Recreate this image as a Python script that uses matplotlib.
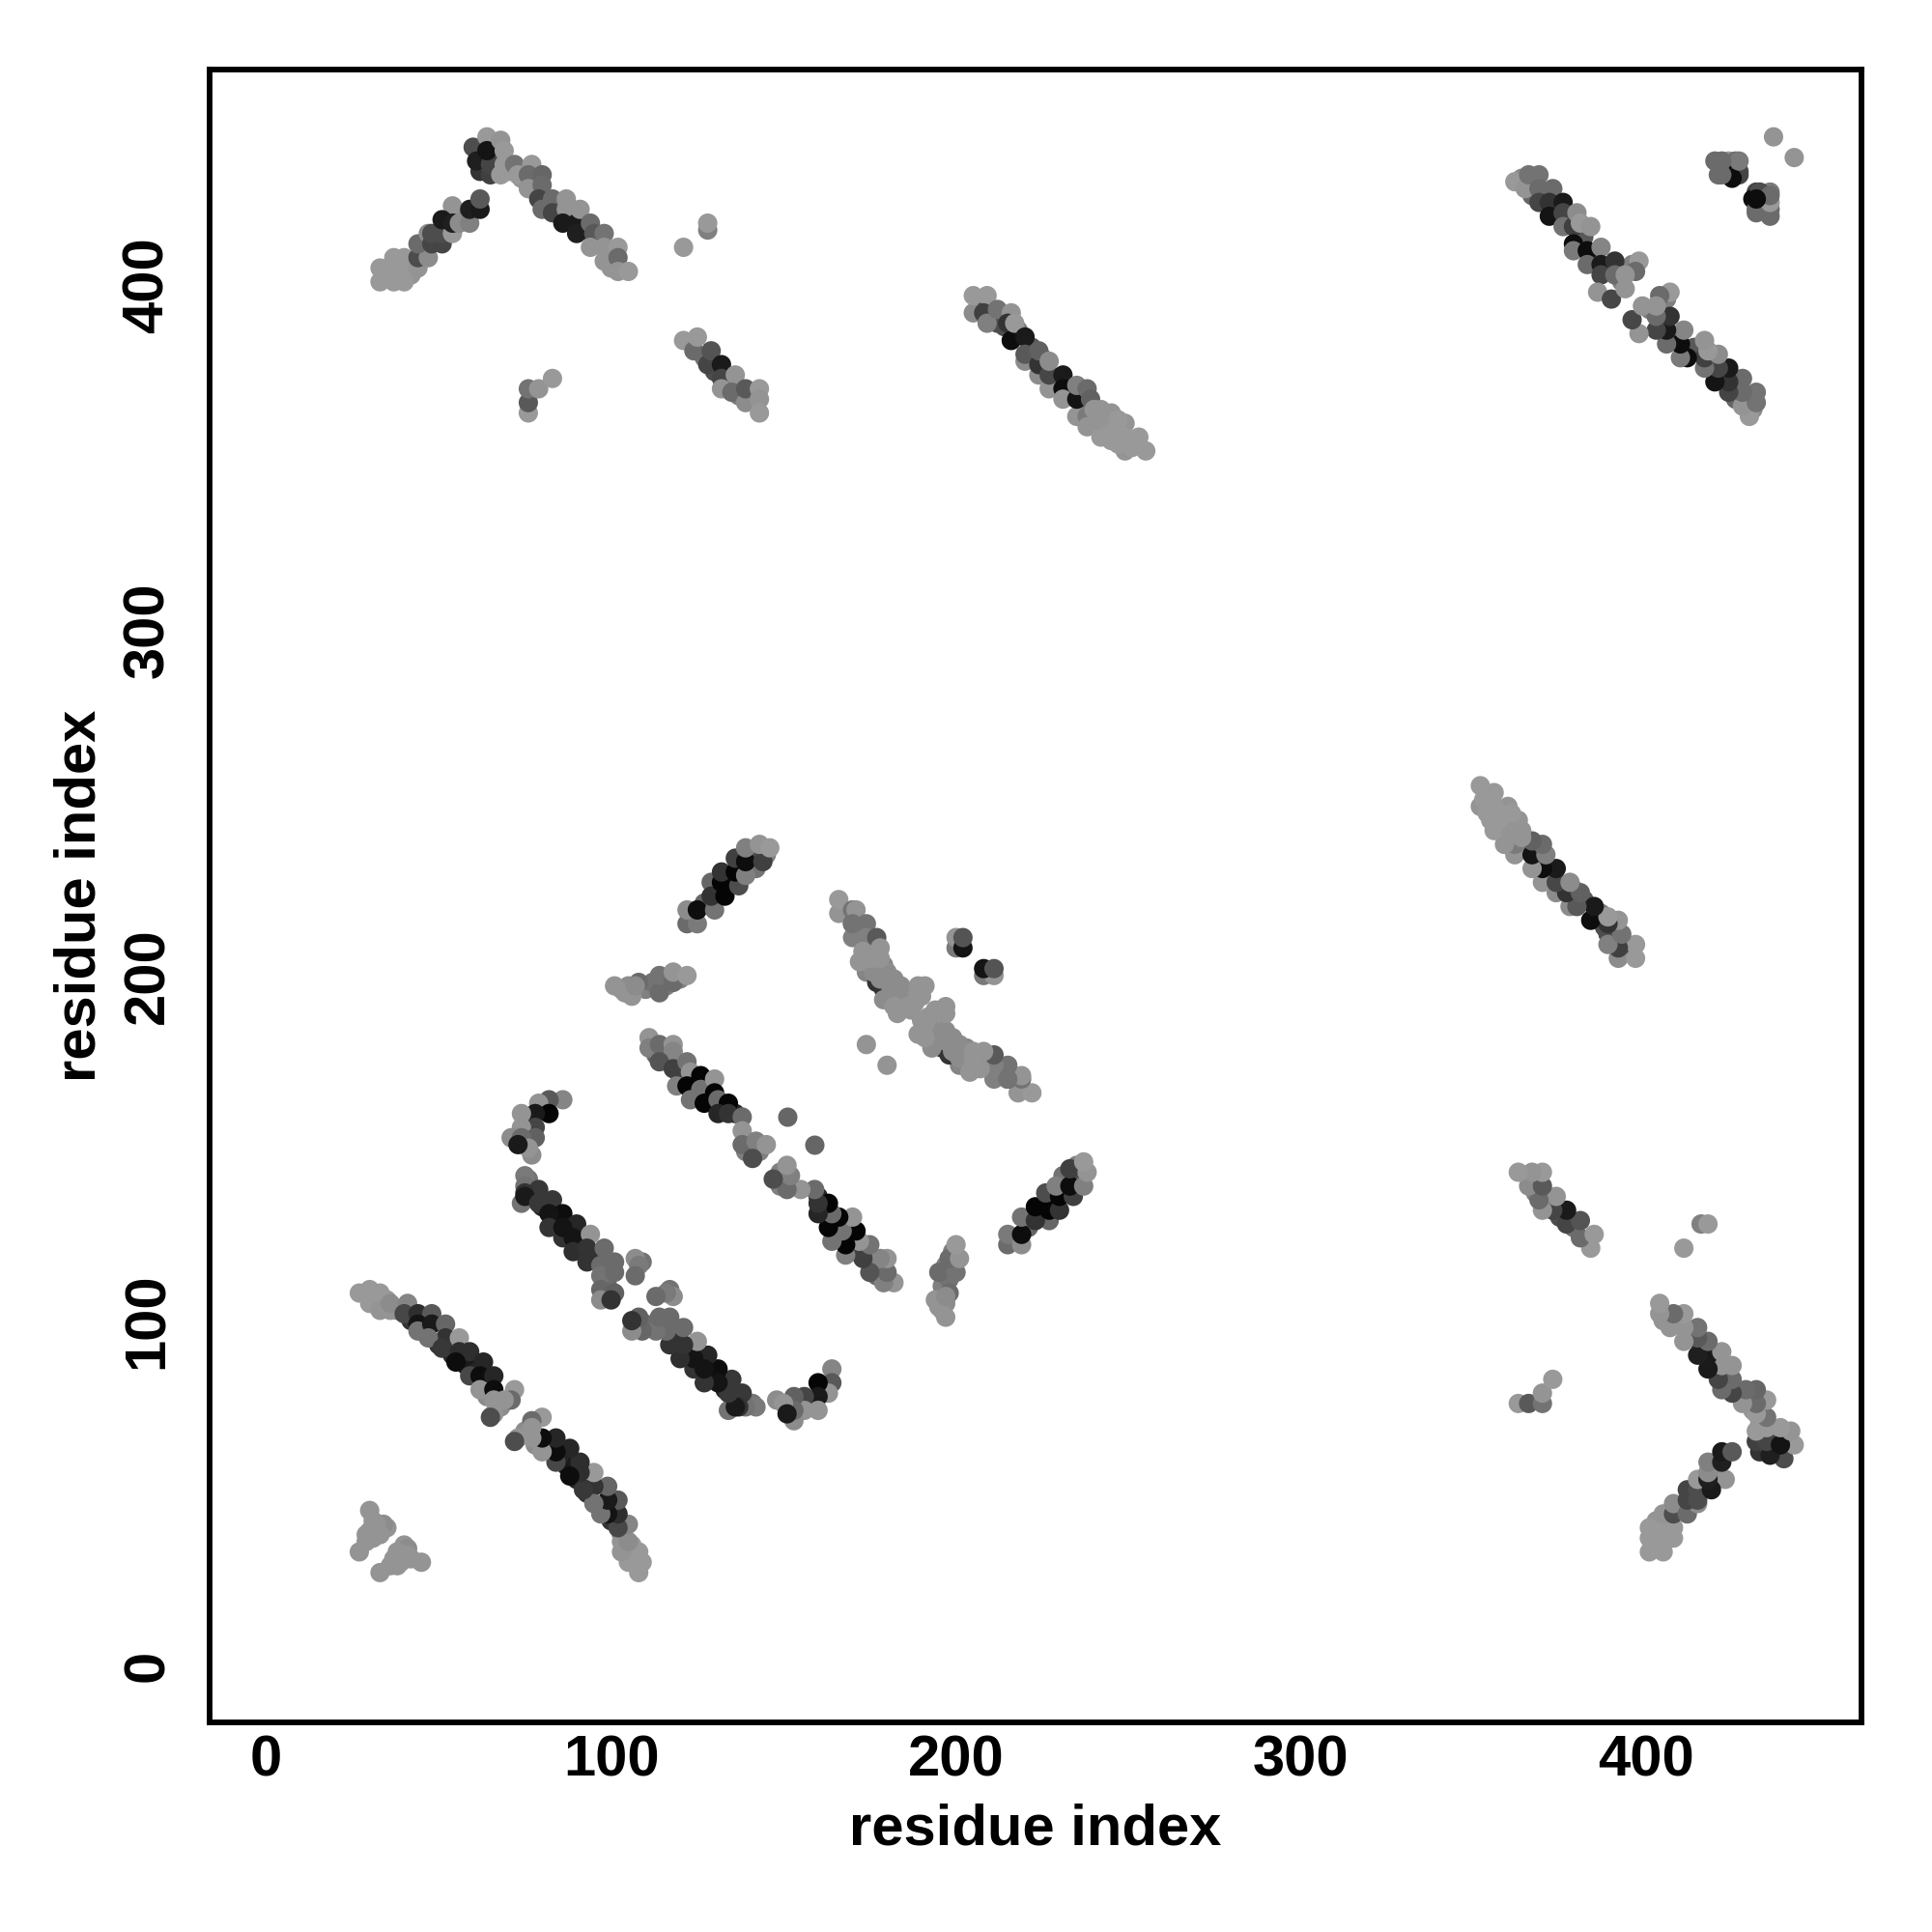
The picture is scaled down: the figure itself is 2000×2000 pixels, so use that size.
import matplotlib
matplotlib.use("Agg")
import matplotlib.pyplot as plt

# Contact pairs (residue i, residue j, grey level); each is also drawn as (j, i).
a_i = [35,38,42,46,50,53,57,33,33,37,40,37,40,40,44,44,47,44,47,48,51,51,48,54,54,51,54,56,59,59,62,62]
a_j = [403,404,403,410,413,417,420,401,405,401,401,408,408,404,405,408,408,412,415,412,412,415,415,415,423,419,418,418,418,422,422,425]
a_g = [.6,.6,.58,.45,.3,.5,.5,.6,.6,.6,.6,.6,.6,.6,.58,.3,.55,.42,.55,.27,.27,.3,.3,.6,.58,.1,.12,.55,.5,.12,.1,.35]

b_i = [62,63,66,67,70,74,78,82,85,88,92,96,100,100,60,61,65,64,65,64,68,69,68,69,72,73,77,76,76,80,80,79,80,83,83,87,87,86,90,90,91,94,95,98,94,98,102,98,102,102,105]
b_j = [433,436,437,434,433,431,428,423,421,419,416,413,409,405,440,436,432,443,435,439,442,439,432,435,435,432,435,432,428,432,429,425,422,425,421,425,422,418,418,415,422,418,415,415,411,411,411,407,408,404,404]
b_g = [.2,.3,.35,.3,.55,.58,.5,.45,.45,.25,.25,.45,.58,.58,.3,.12,.25,.6,.27,.08,.58,.6,.6,.6,.45,.6,.6,.42,.58,.4,.42,.27,.42,.42,.27,.58,.58,.1,.1,.12,.58,.42,.35,.45,.58,.58,.6,.58,.42,.58,.6]

c_i = [121,128,128]
c_j = [411,416,418]
c_g = [.6,.5,.6]

d_i = [76,76,76,79,83]
d_j = [363,366,370,370,373]
d_g = [.6,.35,.45,.58,.6]

e_i = [127,130,134,137,141,121,124,125,128,129,132,132,132,136,135,139,139,143,143,143]
e_j = [379,375,371,368,368,384,381,385,377,381,377,373,370,374,369,366,370,370,367,363]
e_g = [.45,.3,.4,.5,.5,.6,.42,.6,.27,.33,.1,.27,.58,.58,.42,.55,.35,.6,.58,.6]

f_i = [207,211,214,218,222,225,229,233,237,205,205,209,208,212,209,212,216,215,216,217,220,220,220,224,224,224,227,227,227,231,231,231,235,235,235,238,239,238,238,242,245,242,245,249,249,249,253,255,240,243,246,244,247,251,241,247,251]
f_j = [394,391,388,387,382,379,372,368,364,392,397,397,392,389,389,393,392,389,384,389,385,378,380,374,377,381,370,374,378,374,370,367,362,367,371,370,367,362,359,364,363,356,355,360,356,352,356,352,364,360,358,357,354,355,361,361,353]
f_g = [.3,.3,.3,.5,.35,.45,.35,.25,.5,.55,.6,.6,.25,.3,.5,.45,.58,.2,.05,.6,.1,.55,.35,.55,.2,.38,.58,.28,.55,.1,.05,.58,.58,.08,.5,.42,.38,.48,.58,.58,.58,.6,.6,.58,.6,.58,.6,.6,.58,.58,.6,.6,.6,.6,.58,.6,.6]

h_i = [364,367,371,374,378,382,385,389,393,396,362,365,366,369,369,369,373,372,372,376,376,376,379,379,379,380,381,384,383,383,387,387,387,391,391,386,390,394,398,397,394]
h_j = [431,426,426,422,419,414,408,405,401,406,430,428,432,432,428,424,428,424,420,424,421,417,417,412,410,421,418,417,410,406,411,406,403,407,403,398,396,399,407,404,403]
h_g = [.55,.4,.3,.3,.3,.35,.3,.4,.5,.5,.6,.58,.45,.45,.42,.27,.42,.2,.08,.1,.27,.45,.25,.05,.48,.55,.6,.58,.05,.42,.52,.1,.27,.2,.42,.58,.28,.58,.6,.42,.58]

m_i = [427,421,420,424,426,425,432,431,432,436,436,437]
m_j = [433,432,436,436,436,432,427,425,422,427,422,443]
m_g = [.3,.42,.42,.6,.42,.05,.27,.05,.42,.48,.42,.58]

j_i = [35,38,42,46,50,54,58,61,64,68,27,30,33,30,33,36,36,41,40,44,48,44,44,48,52,52,47,51,56,56,59,55,59,63,62,66,62,66,66,72,71,69,66,65]
j_j = [106,103,100,97,93,90,87,85,78,75,108,109,108,105,103,103,105,105,102,102,102,99,97,99,99,95,95,92,95,91,91,88,84,88,84,84,80,80,77,80,77,77,73,72]
j_g = [.6,.5,.2,.15,.2,.15,.1,.15,.55,.55,.6,.6,.6,.6,.58,.58,.55,.52,.28,.18,.35,.08,.45,.1,.4,.2,.45,.22,.6,.18,.18,.05,.28,.15,.05,.15,.58,.05,.58,.6,.42,.58,.58,.3]

k_i = [31,31,29,35,30,34,32,30,27,29,33]
k_j = [42,37,38,40,45,41,41,39,33,36,38]
k_g = [.58,.58,.58,.58,.58,.55,.58,.58,.58,.58,.58]

l_i = [76,77,80,84,88,91,95,99,99,76,75,77,86,82,79,82,78,74,78,74,78,71,74,76,73,75,75,79,75,74,75,83,79,86,82,82,90,86,86,89,94,89,93,93,98,97,101,97,101,97,97,101,100]
l_j = [141,136,133,130,126,122,118,114,110,158,153,148,164,164,163,160,160,160,156,156,153,153,153,150,151,142,139,138,137,134,136,135,134,131,131,127,128,124,127,124,125,120,121,117,121,116,117,113,114,109,106,108,106]
l_g = [.45,.2,.15,.2,.12,.2,.2,.42,.42,.5,.5,.55,.52,.35,.58,.02,.1,.58,.27,.58,.38,.55,.42,.58,.1,.48,.45,.22,.2,.45,.1,.22,.22,.05,.08,.2,.15,.2,.08,.08,.58,.18,.2,.2,.42,.42,.42,.45,.42,.4,.55,.38,.2]

n_i = [109,107,108,107]
n_j = [117,118,116,113]
n_g = [.45,.55,.48,.42]

p_i = [113,116,120,124,128,132,136,140,143,139,111,111,114,118,118,114,118,122,119,123,122,126,126,130,130,123,127,131,134,131,134,138,138,138,142,145,141]
p_j = [177,176,171,170,165,162,160,150,149,149,182,179,180,180,178,175,173,175,168,172,168,171,167,170,166,164,163,164,163,160,160,159,155,151,152,151,147]
p_g = [.4,.4,.25,.35,.2,.1,.15,.45,.5,.5,.58,.5,.42,.58,.52,.33,.25,.45,.5,.58,.02,.02,.45,.58,.02,.45,.02,.42,.02,.15,.2,.42,.58,.42,.5,.58,.3]

q_i = [151]
q_j = [159]
q_g = [.4]

r_i = [166,166,170,170,171,170,174,170,174,177,173,178,177,174,177,179,179,179,182,181,183,186,188,185,191,175,176,178,180,183,184,186,187,181,179,182,184,188,190,189,176,178,174,172]
r_j = [218,222,215,219,219,211,215,215,211,211,207,208,203,201,198,196,203,199,199,194,189,195,195,192,197,205,201,199,201,196,193,191,190,197,193,191,197,192,194,197,205,205,205,204]
r_g = [.58,.6,.3,.45,.58,.5,.45,.45,.5,.35,.58,.58,.55,.52,.2,.2,.52,.55,.55,.58,.58,.58,.58,.58,.58,.55,.55,.55,.55,.55,.55,.58,.58,.55,.55,.58,.55,.58,.58,.58,.58,.58,.58,.58]

s_i = [200,200,202,202,174]
s_j = [208,211,208,211,180]
s_g = [.48,.58,.08,.33,.58]

t_i = [124,127,131,134,138,141,142,145,122,125,122,125,130,129,129,133,132,132,137,136,136,139,139,139,144,143,146]
t_j = [217,221,225,228,232,235,231,235,215,215,219,219,219,227,223,223,227,230,226,230,234,229,233,237,233,238,237]
t_g = [.4,.4,.25,.25,.2,.3,.45,.5,.42,.48,.55,.05,.45,.4,.2,.02,.02,.2,.3,.02,.25,.5,.05,.5,.25,.58,.6]

u_i = [103,110,112,116,120,105,101,104,106,108,107,114,114,118,118,122]
u_j = [196,196,198,197,199,197,197,195,194,198,197,195,200,198,201,200]
u_g = [.58,.5,.45,.5,.5,.55,.58,.58,.58,.42,.55,.42,.45,.42,.58,.6]

clusters = [(a_i,a_j,a_g),(b_i,b_j,b_g),(c_i,c_j,c_g),(d_i,d_j,d_g),(e_i,e_j,e_g),
            (f_i,f_j,f_g),(h_i,h_j,h_g),(m_i,m_j,m_g),(j_i,j_j,j_g),(k_i,k_j,k_g),
            (l_i,l_j,l_g),(n_i,n_j,n_g),(p_i,p_j,p_g),(q_i,q_j,q_g),(r_i,r_j,r_g),
            (s_i,s_j,s_g),(t_i,t_j,t_g),(u_i,u_j,u_g)]

tick_values = [0, 100, 200, 300, 400]
axis_label = "residue index"

plt.rcParams['font.family'] = ['Liberation Sans', 'DejaVu Sans']
fig = plt.figure(figsize=(10, 10), dpi=200)
ax = fig.add_axes([217/2000, 1 - 1783/2000, 1710/2000, 1711/2000])

for ci, cj, cg in clusters:
    cols = [str(v) for v in cg]
    ax.scatter(ci, cj, s=52, c=cols, linewidths=0)
    ax.scatter(cj, ci, s=52, c=cols, linewidths=0)

ax.set_xlim(-16.4, 462.5)
ax.set_ylim(-16.4, 462.5)
ax.set_xticks(tick_values)
ax.set_yticks(tick_values)
ax.set_xticklabels([str(v) for v in tick_values], fontsize=21.5, fontweight='bold')
ax.set_yticklabels([str(v) for v in tick_values], fontsize=21.5, fontweight='bold',
                   rotation=90, va='center')
ax.tick_params(axis='x', length=0, pad=4.5)
ax.tick_params(axis='y', length=0, pad=13)
ax.set_xlabel(axis_label, fontsize=21.5, fontweight='bold')
ax.set_ylabel(axis_label, fontsize=21.5, fontweight='bold')
ax.xaxis.set_label_coords(0.5, -0.0488)
ax.yaxis.set_label_coords(-0.0625, 0.5)
for sp in ax.spines.values():
    sp.set_linewidth(2.1)
fig.savefig("out.png", dpi=200, facecolor="white")
